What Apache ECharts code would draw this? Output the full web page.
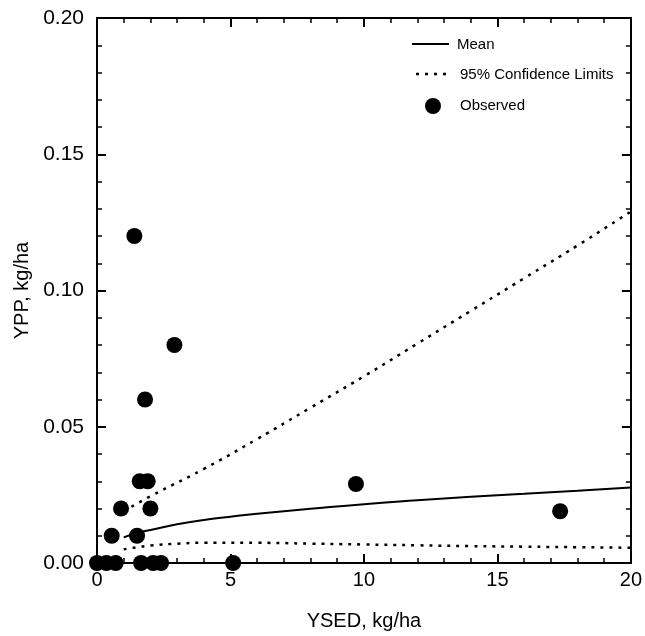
<!DOCTYPE html>
<html>
<head>
<meta charset="utf-8">
<script src="https://cdn.jsdelivr.net/npm/echarts@6/dist/echarts.min.js"></script>
<style>html,body{margin:0;padding:0;background:#fff}#c{width:645px;height:636px}</style>
</head>
<body>
<div id="c"></div>
<script>
// Observed points
var obsX = [1.4, 2.9, 1.8, 1.6, 1.9, 0.9, 2.0, 0.55, 1.5, 9.7, 17.35, 0.0, 0.35, 0.7, 1.65, 2.1, 2.4, 5.1];
var obsY = [0.12, 0.08, 0.06, 0.03, 0.03, 0.02, 0.02, 0.01, 0.01, 0.029, 0.019, 0, 0, 0, 0, 0, 0, 0];
// Mean curve
var meanX = [1, 1.5, 2, 3, 4, 5, 6, 7, 8, 10, 12, 14, 16, 18, 20];
var meanY = [0.0094, 0.0110, 0.0121, 0.0142, 0.0158, 0.0170, 0.0181, 0.0190, 0.0199, 0.0216, 0.0230, 0.0243, 0.0254, 0.0265, 0.0277];
// Upper 95% confidence limit
var upX = [1, 2, 4, 6, 8, 10, 12, 14, 16, 18, 20];
var upY = [0.0190, 0.0245, 0.0345, 0.0455, 0.0570, 0.0685, 0.0805, 0.0925, 0.1045, 0.1165, 0.1290];
// Lower 95% confidence limit
var loX = [1, 1.5, 2, 3, 4, 6, 8, 10, 12, 14, 16, 18, 20];
var loY = [0.0050, 0.0058, 0.0064, 0.0071, 0.0074, 0.0074, 0.0071, 0.0068, 0.0065, 0.0062, 0.0060, 0.0058, 0.0056];
// Tick labels
var xTicks = [0, 5, 10, 15, 20];
var yTicks = [0.00, 0.05, 0.10, 0.15, 0.20];
// Legend labels
var legendNames = ['Mean', '95% Confidence Limits', 'Observed'];

function pairs(xs, ys){ return xs.map(function(x,i){ return [x, ys[i]]; }); }

var FONT = '"Liberation Sans", Arial, sans-serif';
var chart = echarts.init(document.getElementById('c'), null, {renderer:'canvas'});
var axisCommon = {
  axisLine:{show:true, onZero:false, lineStyle:{color:'#000', width:2}},
  axisTick:{show:true, inside:true, length:9, lineStyle:{color:'#000', width:2}},
  minorTick:{show:true, splitNumber:5, length:5, lineStyle:{color:'#000', width:1.5}},
  splitLine:{show:false}
};
var legText = {fontFamily:FONT, fontSize:15, fill:'#000', verticalAlign:'middle'};
var option = {
  animation:false,
  backgroundColor:'#fff',
  grid:{left:97, right:12, top:18, bottom:71, containLabel:false},
  graphic:[
    {type:'line', shape:{x1:412, y1:44, x2:449, y2:44}, style:{stroke:'#000', lineWidth:2}},
    {type:'text', left:457, top:37, style:Object.assign({text:legendNames[0]}, legText)},
    {type:'line', shape:{x1:416, y1:74, x2:448, y2:74}, style:{stroke:'#000', lineWidth:2.5, lineDash:[3,6]}},
    {type:'text', left:460, top:67, style:Object.assign({text:legendNames[1]}, legText)},
    {type:'circle', shape:{cx:433, cy:106, r:8}, style:{fill:'#000'}},
    {type:'text', left:460, top:98, style:Object.assign({text:legendNames[2]}, legText)}
  ],
  xAxis:[
    Object.assign({type:'value', min:xTicks[0], max:xTicks[xTicks.length-1], interval:5, position:'bottom',
      name:'YSED, kg/ha', nameLocation:'middle', nameGap:48,
      nameTextStyle:{fontFamily:FONT, fontSize:20, color:'#000'},
      axisLabel:{show:true, margin:7, fontFamily:FONT, fontSize:20, color:'#000'}}, axisCommon),
    Object.assign({type:'value', min:0, max:20, interval:5, position:'top', axisLabel:{show:false}}, axisCommon)
  ],
  yAxis:[
    Object.assign({type:'value', min:yTicks[0], max:yTicks[yTicks.length-1], interval:0.05, position:'left',
      name:'YPP, kg/ha', nameLocation:'middle', nameGap:50,
      nameTextStyle:{fontFamily:FONT, fontSize:20, color:'#000'},
      axisLabel:{show:true, margin:13, fontFamily:FONT, fontSize:21, color:'#000',
        formatter:function(v){ return v.toFixed(2); }}}, axisCommon),
    Object.assign({type:'value', min:0, max:0.2, interval:0.05, position:'right', axisLabel:{show:false}}, axisCommon)
  ],
  series:[
    {name:'Mean', type:'line', data:pairs(meanX, meanY), smooth:true, showSymbol:false, symbol:'none',
     lineStyle:{color:'#000', width:2}, itemStyle:{color:'#000'}},
    {name:'95% Confidence Limits', type:'line', data:pairs(upX, upY), smooth:true, showSymbol:false, symbol:'none',
     lineStyle:{color:'#000', width:2.5, type:[3,6]}, itemStyle:{color:'#000'}},
    {name:'95% Confidence Limits', type:'line', data:pairs(loX, loY), smooth:true, showSymbol:false, symbol:'none',
     lineStyle:{color:'#000', width:2.5, type:[3,6]}, itemStyle:{color:'#000'}},
    {name:'Observed', type:'scatter', data:pairs(obsX, obsY), symbol:'circle', symbolSize:16, clip:false,
     itemStyle:{color:'#000', opacity:1}, z:5}
  ]
};
chart.setOption(option);
</script>
</body>
</html>
